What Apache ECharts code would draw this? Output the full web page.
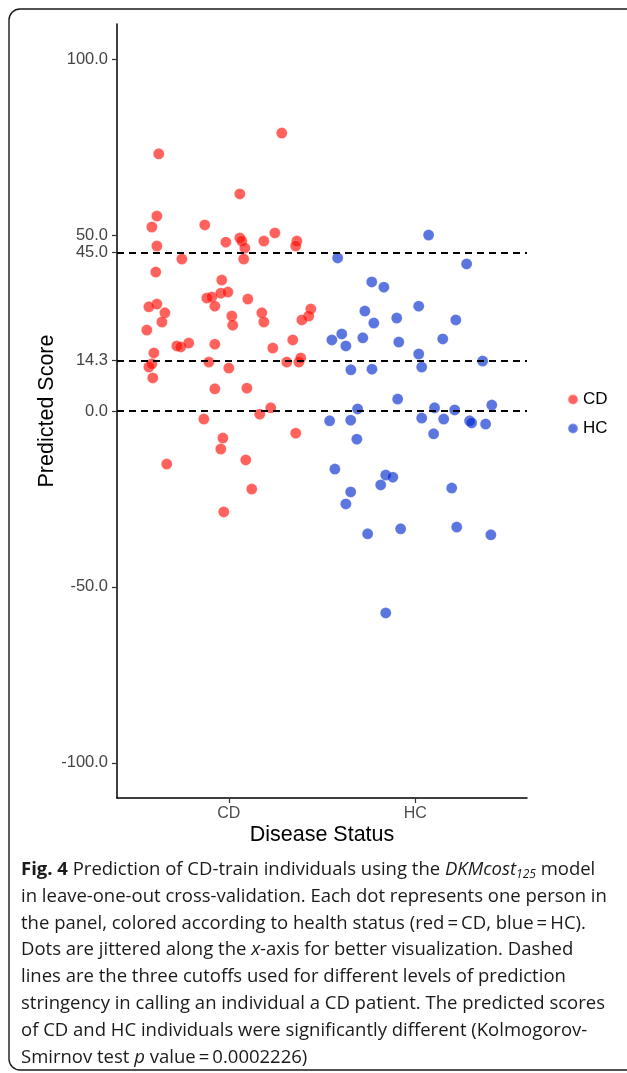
<!DOCTYPE html>
<html><head><meta charset="utf-8">
<script src="https://cdn.jsdelivr.net/npm/echarts@6/dist/echarts.min.js"></script>
<style>html,body{margin:0;padding:0;background:#fff;}#c{width:627px;height:1073px;}</style>
</head><body><div id="c"></div>
<script>
// Categories and tick labels
const categories = ['CD', 'HC'];
const yTicks = [-100, -50, 0, 14.3, 45, 50, 100];
const cutoffs = [45, 14.3, 0];

// CD series: [jittered x position, predicted score]
const cdPoints = [
  [1.284, 79.0], [0.624, 73.1], [1.059, 61.7], [0.614, 55.4], [0.587, 52.3], [0.871, 52.9],
  [0.614, 46.9], [1.059, 49.2], [1.070, 48.3], [1.086, 46.3], [0.984, 48.0], [1.188, 48.3],
  [1.247, 50.6], [1.365, 48.3], [1.359, 46.9], [0.748, 43.2], [1.080, 43.2], [0.608, 39.5],
  [0.962, 37.2], [0.882, 32.1], [0.909, 32.4], [0.957, 33.5], [0.995, 33.8], [1.102, 31.8],
  [0.614, 30.4], [0.571, 29.6], [0.925, 29.8], [0.657, 27.9], [0.641, 25.3], [0.560, 23.0],
  [1.016, 27.0], [1.021, 24.4], [1.177, 27.9], [1.188, 25.3], [1.440, 29.0], [1.429, 27.0],
  [1.392, 25.9], [0.721, 18.5], [0.742, 18.2], [0.785, 19.3], [0.925, 19.0], [1.343, 20.2],
  [1.236, 17.9], [0.598, 16.5], [0.571, 12.5], [0.587, 13.4], [0.592, 9.4], [0.893, 13.9],
  [1.000, 12.2], [1.311, 13.9], [1.376, 13.9], [1.386, 15.1], [0.925, 6.3], [1.097, 6.5],
  [1.225, 0.9], [1.166, -0.9], [0.866, -2.3], [1.359, -6.3], [0.968, -7.7], [0.957, -10.8],
  [0.667, -15.1], [1.091, -13.9], [1.123, -22.2], [0.973, -28.7]
];

// HC series: [jittered x position, predicted score]
const hcPoints = [
  [2.072, 50.0], [1.584, 43.5], [2.276, 41.8], [1.767, 36.7], [1.832, 35.2], [2.019, 29.8],
  [1.730, 28.4], [1.901, 26.4], [2.218, 25.9], [1.778, 25.0], [1.606, 21.9], [1.553, 20.2],
  [1.628, 18.5], [1.719, 20.8], [1.912, 19.6], [2.148, 20.5], [2.019, 16.2], [2.035, 12.5],
  [2.362, 14.2], [1.655, 11.7], [1.768, 11.9], [1.906, 3.4], [1.691, 0.6], [2.104, 0.9],
  [2.212, 0.3], [2.411, 1.7], [1.541, -2.8], [1.654, -2.6], [2.035, -2.0], [2.153, -2.3],
  [2.292, -2.8], [2.303, -3.4], [2.378, -3.7], [2.099, -6.5], [1.687, -8.0], [1.569, -16.5],
  [1.842, -18.2], [1.880, -18.8], [1.815, -21.0], [1.654, -23.0], [2.196, -21.9], [1.628, -26.4],
  [1.745, -34.9], [1.922, -33.5], [2.223, -33.0], [2.406, -35.2], [1.842, -57.4]
];

const captionLines = [
  '{b|Fig. 4} Prediction of CD-train individuals using the {i|DKMcost}{sub|125} model',
  'in leave-one-out cross-validation. Each dot represents one person in',
  'the panel, colored according to health status (red\u2009=\u2009CD, blue\u2009=\u2009HC).',
  'Dots are jittered along the {i|x}-axis for better visualization. Dashed',
  'lines are the three cutoffs used for different levels of prediction',
  'stringency in calling an individual a CD patient. The predicted scores',
  'of CD and HC individuals were significantly different (Kolmogorov-',
  'Smirnov test {i|p} value\u2009=\u20090.0002226)'
];

const chart = echarts.init(document.getElementById('c'), null, {renderer: 'canvas'});
const axFont = '"Liberation Sans", Arial, sans-serif';
const capFont = '"Open Sans", "Noto Sans", sans-serif';
const capSize = 18.5;
const graphics = [
  {type: 'rect', shape: {x: 9, y: 9, width: 660, height: 1061, r: 11},
   style: {fill: 'none', stroke: '#1a1a1a', lineWidth: 1.4}, silent: true, z: 0}
];
captionLines.forEach((t, i) => {
  graphics.push({
    type: 'text', left: 21, top: 860 + i * 26.9, silent: true,
    style: {
      text: t, fill: '#1a1a1a', fontFamily: capFont, fontSize: capSize,
      rich: {
        b: {fontWeight: 'bold', fontFamily: capFont, fontSize: capSize, fill: '#1a1a1a'},
        i: {fontStyle: 'italic', fontFamily: capFont, fontSize: capSize, fill: '#1a1a1a'},
        sub: {fontStyle: 'italic', fontFamily: capFont, fontSize: 12, fill: '#1a1a1a', padding: [10, 0, 0, 0]}
      }
    }
  });
});

const option = {
  backgroundColor: '#ffffff',
  animation: false,
  textStyle: {fontFamily: axFont},
  grid: {left: 117, top: 24, width: 410, height: 774},
  legend: {
    orient: 'vertical', left: 562, top: 386, itemGap: 12,
    icon: 'circle', itemWidth: 10, itemHeight: 10,
    textStyle: {fontSize: 17, color: '#000', fontFamily: axFont},
    data: categories
  },
  xAxis: {
    type: 'value', min: 0.4, max: 2.6,
    name: 'Disease Status', nameLocation: 'middle', nameGap: 26, nameMoveOverlap: false,
    nameTextStyle: {fontSize: 21.5, color: '#000', fontFamily: axFont},
    splitLine: {show: false},
    axisLine: {show: true, onZero: false, lineStyle: {color: '#000', width: 1.5}},
    axisTick: {show: true, customValues: [1, 2], length: 5, lineStyle: {color: '#333', width: 1.2}},
    axisLabel: {customValues: [1, 2], margin: 8, fontSize: 16, color: '#4d4d4d', fontFamily: axFont,
      formatter: v => categories[Math.round(v) - 1] || ''}
  },
  yAxis: {
    type: 'value', min: -110, max: 110,
    name: 'Predicted Score', nameLocation: 'middle', nameGap: 59, nameMoveOverlap: false,
    nameTextStyle: {fontSize: 21.5, color: '#000', fontFamily: axFont},
    splitLine: {show: false},
    axisLine: {show: true, onZero: false, lineStyle: {color: '#000', width: 1.5}},
    axisTick: {show: true, customValues: yTicks, length: 5, lineStyle: {color: '#333', width: 1.2}},
    axisLabel: {customValues: yTicks, margin: 9, fontSize: 16.5, color: '#444', fontFamily: axFont, hideOverlap: false,
      formatter: v => Number(v).toFixed(1)}
  },
  graphic: graphics,
  series: [
    {
      name: 'CD', type: 'scatter', data: cdPoints, symbolSize: 11,
      itemStyle: {color: 'rgba(255,10,0,0.8)', borderColor: 'rgba(255,255,255,0.35)', borderWidth: 0.6},
      markLine: {
        silent: true, symbol: ['none', 'none'], label: {show: false},
        lineStyle: {color: '#000', type: [7, 5], width: 1.8},
        data: cutoffs.map(v => ({yAxis: v}))
      },
      z: 3
    },
    {
      name: 'HC', type: 'scatter', data: hcPoints, symbolSize: 11,
      itemStyle: {color: 'rgba(0,40,205,0.8)', borderColor: 'rgba(255,255,255,0.35)', borderWidth: 0.6},
      z: 3
    }
  ]
};
chart.setOption(option);
</script>
</body></html>
